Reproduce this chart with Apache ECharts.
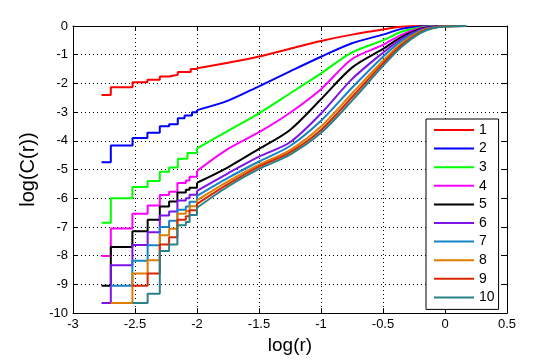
<!DOCTYPE html>
<html><head><meta charset="utf-8">
<script src="https://cdn.jsdelivr.net/npm/echarts@6/dist/echarts.min.js"></script>
<style>html,body{margin:0;padding:0;background:#fff}#c{width:560px;height:360px}</style>
</head><body><div id="c"></div>
<script>
// legend names and colours
const names = ['1','2','3','4','5','6','7','8','9','10'];
const colors = ['#ff0000','#0000ff','#00ff00','#ff00ff','#000000','#7f12e6','#1583c8','#de7d00','#d92600','#2a8088'];
const xTickValues = [-3,-2.5,-2,-1.5,-1,-0.5,0,0.5];
const yTickValues = [0,-1,-2,-3,-4,-5,-6,-7,-8,-9,-10];

// staircase part (log r, log C) : value holds until the next point
const steps1 = [[-2.77,-2.40],[-2.695,-2.13],[-2.52,-1.96],[-2.40,-1.87],[-2.30,-1.76],[-2.225,-1.70],[-2.155,-1.60],[-2.05,-1.50]];
const steps2 = [[-2.77,-4.75],[-2.695,-4.16],[-2.52,-3.90],[-2.40,-3.72],[-2.30,-3.49],[-2.225,-3.42],[-2.155,-3.21],[-2.10,-3.12],[-2.04,-3.00]];
const steps3 = [[-2.77,-6.85],[-2.695,-6.00],[-2.521,-5.61],[-2.398,-5.40],[-2.30,-5.08],[-2.225,-4.93],[-2.155,-4.62],[-2.077,-4.42]];
const steps4 = [[-2.77,-8.01],[-2.695,-7.05],[-2.521,-6.54],[-2.398,-6.25],[-2.30,-5.89],[-2.225,-5.77],[-2.158,-5.47],[-2.09,-5.38],[-2.06,-5.25]];
const steps5 = [[-2.77,-9.05],[-2.695,-7.70],[-2.521,-7.15],[-2.398,-6.75],[-2.30,-6.29],[-2.225,-6.11],[-2.158,-5.80],[-2.09,-5.70],[-2.06,-5.63]];
const steps6 = [[-2.77,-9.65],[-2.695,-8.33],[-2.521,-7.63],[-2.398,-7.18],[-2.30,-6.60],[-2.225,-6.46],[-2.158,-6.08],[-2.09,-6.00],[-2.06,-5.88]];
const steps7 = [[-2.695,-9.05],[-2.521,-8.18],[-2.398,-7.64],[-2.30,-7.00],[-2.225,-6.78],[-2.158,-6.40],[-2.09,-6.29],[-2.06,-6.12]];
const steps8 = [[-2.695,-9.65],[-2.521,-8.62],[-2.398,-8.16],[-2.30,-7.29],[-2.225,-7.06],[-2.158,-6.54],[-2.09,-6.44],[-2.06,-6.28]];
const steps9 = [[-2.521,-9.05],[-2.398,-8.62],[-2.30,-7.61],[-2.225,-7.36],[-2.158,-6.75],[-2.09,-6.63],[-2.06,-6.42]];
const steps10 = [[-2.521,-9.65],[-2.398,-9.33],[-2.30,-7.84],[-2.225,-7.61],[-2.158,-6.94],[-2.09,-6.83],[-2.06,-6.58]];

// smooth part (log r, log C)
const smooth1 = [[-2.0,-1.47],[-1.75,-1.28],[-1.5,-1.06],[-1.25,-0.79],[-1.0,-0.52],[-0.75,-0.30],[-0.5,-0.12],[-0.35,-0.03],[-0.2,0],[-0.1,0],[0,0],[0.17,0]];
const smooth2 = [[-2.0,-2.93],[-1.75,-2.60],[-1.5,-2.10],[-1.25,-1.58],[-1.0,-1.07],[-0.75,-0.60],[-0.5,-0.30],[-0.35,-0.10],[-0.2,-0.02],[-0.1,0],[0,0],[0.17,0]];
const smooth3 = [[-2.0,-4.26],[-1.75,-3.65],[-1.5,-3.04],[-1.25,-2.35],[-1.0,-1.65],[-0.75,-0.92],[-0.5,-0.50],[-0.35,-0.20],[-0.2,-0.05],[-0.1,-0.01],[0,0],[0.17,0]];
const smooth4 = [[-2.0,-5.05],[-1.75,-4.28],[-1.5,-3.70],[-1.25,-3.02],[-1.0,-2.20],[-0.75,-1.15],[-0.5,-0.66],[-0.35,-0.30],[-0.2,-0.08],[-0.1,-0.02],[0,0],[0.17,0]];
const smooth5 = [[-2.0,-5.46],[-1.75,-4.92],[-1.5,-4.28],[-1.25,-3.62],[-1.0,-2.55],[-0.75,-1.45],[-0.5,-0.80],[-0.35,-0.38],[-0.2,-0.10],[-0.1,-0.03],[0,0],[0.17,0]];
const smooth6 = [[-2.0,-5.74],[-1.75,-5.13],[-1.5,-4.55],[-1.25,-4.05],[-1.0,-3.05],[-0.75,-1.85],[-0.5,-0.93],[-0.35,-0.45],[-0.2,-0.13],[-0.1,-0.04],[0,0],[0.17,0]];
const smooth7 = [[-2.0,-5.92],[-1.75,-5.29],[-1.5,-4.72],[-1.25,-4.18],[-1.0,-3.30],[-0.75,-2.15],[-0.5,-1.07],[-0.35,-0.52],[-0.2,-0.16],[-0.1,-0.05],[0,-0.01],[0.17,0]];
const smooth8 = [[-2.0,-6.07],[-1.75,-5.41],[-1.5,-4.83],[-1.25,-4.32],[-1.0,-3.50],[-0.75,-2.35],[-0.5,-1.21],[-0.35,-0.60],[-0.2,-0.19],[-0.1,-0.06],[0,-0.01],[0.17,0]];
const smooth9 = [[-2.0,-6.20],[-1.75,-5.51],[-1.5,-4.90],[-1.25,-4.40],[-1.0,-3.62],[-0.75,-2.48],[-0.5,-1.30],[-0.35,-0.66],[-0.2,-0.22],[-0.1,-0.07],[0,-0.01],[0.17,0]];
const smooth10 = [[-2.0,-6.33],[-1.75,-5.59],[-1.5,-4.98],[-1.25,-4.48],[-1.0,-3.72],[-0.75,-2.60],[-0.5,-1.39],[-0.35,-0.72],[-0.2,-0.25],[-0.1,-0.08],[0,-0.02],[0.17,0]];

const stepsAll = [steps1,steps2,steps3,steps4,steps5,steps6,steps7,steps8,steps9,steps10];
const smoothAll = [smooth1,smooth2,smooth3,smooth4,smooth5,smooth6,smooth7,smooth8,smooth9,smooth10];

function stairs(steps, next) {
  const out = [];
  for (let i = 0; i < steps.length; i++) {
    out.push(steps[i]);
    const nx = i + 1 < steps.length ? steps[i + 1][0] : next[0];
    out.push([nx, steps[i][1]]);
  }
  out.push(next);
  return out;
}

const FONT = 'Liberation Sans, Arial, Helvetica, sans-serif';
const series = [];
for (let i = 0; i < names.length; i++) {
  const common = {
    name: names[i], type: 'line', symbol: 'none', showSymbol: false,
    lineStyle: { width: 2, color: colors[i] }, itemStyle: { color: colors[i] },
    xAxisIndex: 0, yAxisIndex: 0, silent: true
  };
  series.push(Object.assign({}, common, { data: stairs(stepsAll[i], smoothAll[i][0]) }));
  series.push(Object.assign({}, common, { data: smoothAll[i], smooth: 0.3 }));
}

const axisCommon = {
  axisLine: { show: true, onZero: false, lineStyle: { color: '#000', width: 1 } },
  axisTick: { show: true, inside: true, length: 5, lineStyle: { color: '#000' } }
};

const chart = echarts.init(document.getElementById('c'), null, { renderer: 'canvas' });
chart.setOption({
  animation: false,
  backgroundColor: '#fff',
  grid: { left: 73, top: 26, right: 53, bottom: 44, containLabel: false },
  legend: {
    data: names, orient: 'vertical', left: 426, top: 119,
    padding: [4, 4, 5, 7], itemWidth: 40, itemHeight: 14, itemGap: 4.6,
    borderColor: '#000', borderWidth: 1, backgroundColor: '#fff', borderRadius: 0,
    itemStyle: { opacity: 0 },
    lineStyle: { width: 2 },
    textStyle: { fontSize: 14, color: '#000', fontFamily: FONT, lineHeight: 14 }
  },
  xAxis: [
    Object.assign({}, axisCommon, {
      type: 'value', min: xTickValues[0], max: xTickValues[xTickValues.length - 1], interval: 0.5,
      position: 'bottom',
      name: 'log(r)', nameLocation: 'middle', nameGap: 22,
      nameTextStyle: { fontSize: 19, color: '#000', fontFamily: FONT },
      axisLabel: { color: '#000', fontSize: 13, fontFamily: FONT, margin: 5 },
      splitLine: { show: true, lineStyle: { color: '#000', width: 1, type: [1, 3] } }
    }),
    Object.assign({}, axisCommon, {
      type: 'value', min: xTickValues[0], max: xTickValues[xTickValues.length - 1], interval: 0.5,
      position: 'top', axisLabel: { show: false }, splitLine: { show: false }
    })
  ],
  yAxis: [
    Object.assign({}, axisCommon, {
      type: 'value', min: yTickValues[yTickValues.length - 1], max: yTickValues[0], interval: 1,
      position: 'left',
      name: 'log(C(r))', nameLocation: 'middle', nameGap: 31, nameRotate: 90,
      nameTextStyle: { fontSize: 20, color: '#000', fontFamily: FONT },
      axisLabel: { color: '#000', fontSize: 13, fontFamily: FONT, margin: 5 },
      splitLine: { show: true, lineStyle: { color: '#000', width: 1, type: [1, 3] } }
    }),
    Object.assign({}, axisCommon, {
      type: 'value', min: yTickValues[yTickValues.length - 1], max: yTickValues[0], interval: 1,
      position: 'right', axisLabel: { show: false }, splitLine: { show: false }
    })
  ],
  series: series
});
</script></body></html>
